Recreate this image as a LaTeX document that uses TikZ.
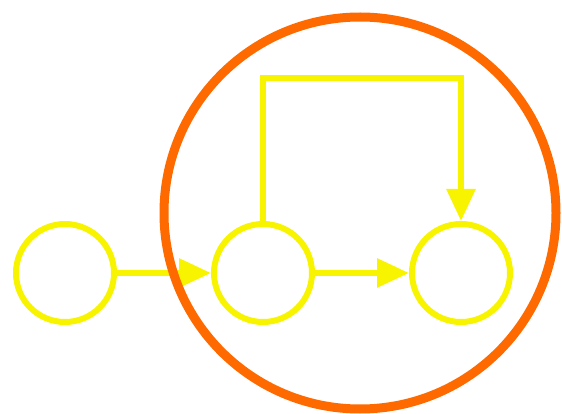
\documentclass[tikz,border=0pt]{standalone}
\usetikzlibrary{arrows.meta}
\definecolor{ringorange}{HTML}{FF6A00}
\definecolor{flowyellow}{HTML}{F8F400}
\tikzset{
  state/.style={circle, draw=flowyellow, line width=6pt, minimum size=98pt, inner sep=0pt},
  flow/.style={draw=flowyellow, line width=6pt, -{Triangle[length=32pt,width=28pt]}}
}
\begin{document}
\begin{tikzpicture}[x=1pt,y=-1pt]
\useasboundingbox (0,0) rectangle (562,414);
\def\yS{273};
\def\yTop{78};
\node[state] (a) at (65,\yS) {};
\node[state] (b) at (263,\yS) {};
\node[state] (c) at (461,\yS) {};
\coordinate (top) at (263,\yTop);
\draw[flow] (a) -- (b);
\draw[flow] (b) -- (c);
\draw[flow] (b.north) -- (top) -| (c.north);
% ring round the last two states
\draw[ringorange, line width=9pt] (360,213) circle (196);
\end{tikzpicture}
\end{document}
